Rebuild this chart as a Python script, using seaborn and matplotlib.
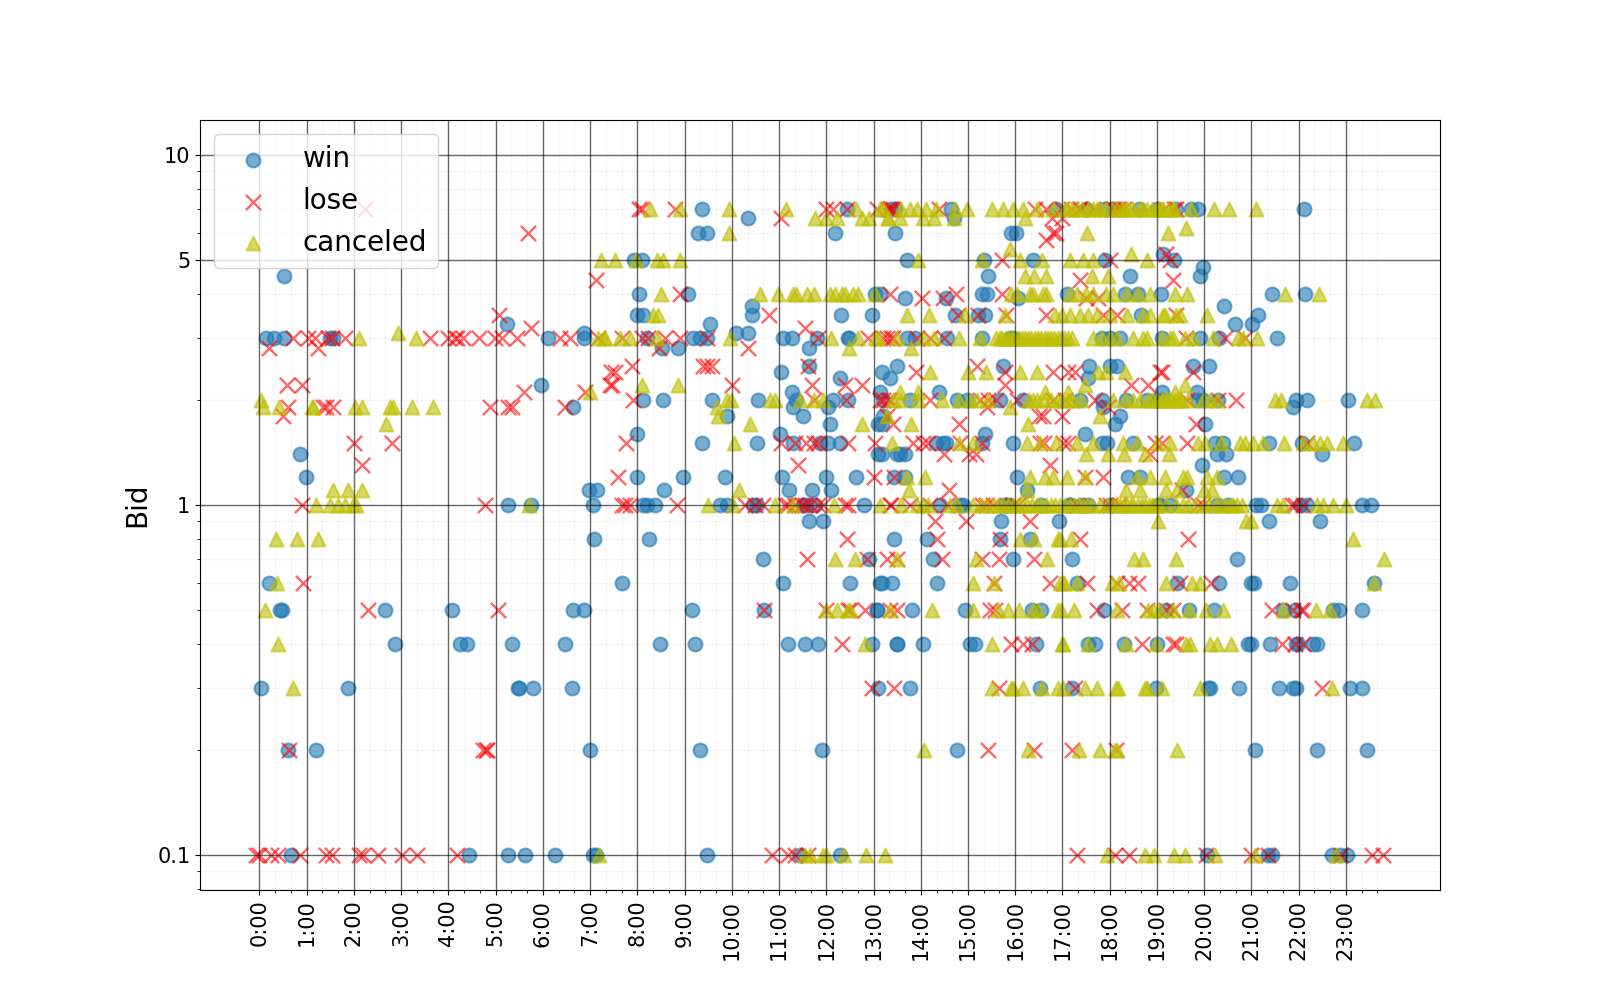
import numpy as np
import pandas as pd
import seaborn as sns
import matplotlib.pyplot as plt
from matplotlib.ticker import LogLocator, NullFormatter

# x values are hours of the day, one list per bid level
win_7 = [9.36, 12.43, 13.38, 13.45, 14.65, 16.87, 17.5, 17.9, 18.1, 18.62, 19.0, 19.41, 19.73, 19.87, 22.12]
win_66 = [10.34, 14.7]
win_6 = [9.29, 9.48, 12.18, 13.46, 15.92, 16.01]
win_52 = [19.13]
win_5 = [7.94, 8.11, 13.71, 15.34, 16.38, 17.9, 19.35]
win_48 = [19.98]
win_45 = [0.53, 15.43, 18.43, 19.9]
win_4 = [8.04, 9.08, 13.03, 13.14, 15.3, 15.4, 17.09, 18.32, 18.6, 19.08, 21.44, 22.14]
win_39 = [13.66, 14.54, 16.06]
win_37 = [10.43, 20.42]
win_35 = [8.0, 8.13, 10.42, 12.31, 12.97, 14.72, 15.22, 15.36, 18.67, 21.14]
win_33 = [5.24, 9.54, 21.01, 20.65]
win_31 = [6.88, 10.1, 10.35]
win_3 = [0.14, 0.31, 0.53, 1.5, 1.55, 6.1, 6.88, 8.2, 9.18, 9.33, 9.47, 11.09, 11.27, 11.81, 12.47, 12.48,
         13.7, 13.87, 14.55, 15.29, 15.89, 15.95, 17.83, 18.0, 18.21, 19.1, 19.9, 20.32, 21.53]
win_28 = [8.53, 8.87, 11.64]
win_25 = [11.64, 13.5, 15.75, 17.57, 18.0, 18.15, 19.77, 20.1]
win_24 = [11.05, 13.17]
win_23 = [12.29, 13.35, 17.55]
win_22 = [5.97]
win_21 = [11.28, 13.14, 14.39, 19.1, 19.84]
win_2 = [8.13, 8.55, 9.59, 10.56, 11.35, 12.15, 12.47, 13.2, 13.77, 14.76, 14.97, 15.67, 16.17, 17.37,
         17.83, 18.35, 18.78, 18.99, 19.1, 19.87, 19.98, 20.3, 21.95, 22.17, 23.05]
win_19 = [6.65, 11.3, 12.04, 17.86, 21.88]
win_18 = [9.89, 11.51, 13.2, 18.21]
win_17 = [12.08, 13.1, 13.17, 18.11, 20.02]
win_16 = [8.0, 11.02, 15.36, 17.48]
win_15 = [9.38, 10.53, 11.3, 11.87, 12.04, 12.29, 14.33, 14.47, 14.54, 15.29, 15.96, 17.83, 17.94, 18.5,
          20.23, 20.4, 21.38, 22.07, 23.17]
win_14 = [0.87, 13.1, 13.19, 13.5, 13.56, 13.67, 20.28, 20.47, 22.5]
win_13 = [19.96]
win_12 = [0.99, 8.0, 8.97, 9.86, 11.07, 12.0, 12.64, 13.44, 13.66, 16.04, 18.39, 18.64, 20.42, 20.72]
win_11 = [6.98, 7.14, 8.57, 11.22, 11.69, 12.11, 16.24, 19.61]
win_1 = [5.27, 5.75, 7.07, 8.13, 8.2, 8.37, 9.76, 9.89, 10.45, 10.53, 11.51, 11.57, 11.76, 12.8, 14.41, 14.83, 14.9,
         15.78, 15.81, 15.85, 16.55, 17.13, 17.15, 17.4, 17.55, 18.0, 19.03, 19.06, 19.27, 20.26, 20.51, 21.1, 21.2,
         22.02, 22.17, 23.33, 23.54]
win_09 = [11.64, 11.94, 15.69, 16.92, 21.38, 22.45]
win_08 = [7.09, 8.25, 13.44, 14.14, 15.68, 16.31]
win_07b = [10.67, 12.9, 14.26, 15.96, 17.2, 20.7]
win_06 = [0.21, 7.68, 11.09, 12.51, 13.13, 13.17, 13.4, 14.35, 17.3, 19.43, 20.32, 20.99, 21.05, 21.81, 23.6]
win_05 = [0.44, 0.49, 2.67, 4.08, 6.65, 6.88, 9.16, 10.68, 13.07, 13.08, 13.82, 14.93, 16.35, 16.54, 17.88,
          19.19, 19.67, 20.21, 21.67, 21.92, 22.73, 22.86, 23.34]
win_04 = [2.88, 4.25, 4.4, 5.35, 6.48, 8.49, 9.22, 11.2, 11.54, 11.83, 12.96, 13.49, 13.5, 14.05, 15.05, 15.14,
          16.44, 17.55, 17.69, 18.31, 19.0, 20.93, 21.0, 21.4, 21.95, 21.99, 22.3, 22.38]
win_03 = [0.04, 1.88, 5.47, 5.5, 5.8, 6.61, 13.1, 13.77, 16.52, 17.21, 18.97, 20.09, 20.12, 20.74, 21.59, 21.88,
          21.94, 23.08, 23.33]
win_02 = [0.61, 1.21, 7.0, 9.33, 11.92, 14.77, 21.08, 22.39, 23.45]
win_01 = [0.67, 4.44, 5.27, 5.62, 6.26, 7.07, 7.12, 9.48, 11.44, 12.29, 20.05, 21.36, 21.43, 22.7, 22.87, 23.03]

lose_7 = [2.24, 8.04, 8.1, 8.8, 12.0, 12.14, 12.43, 13.07, 13.3, 13.35, 13.38, 13.42, 14.39, 16.42, 16.66, 16.98, 17.19,
          17.35, 17.4, 17.65, 18.05, 18.1, 18.15, 18.2, 18.3, 19.14, 19.35, 19.41]
lose_66 = [11.04, 16.77, 16.98]
lose_6 = [5.69, 16.8, 16.86]
lose_57 = [16.66]
lose_52 = [19.2]
lose_5 = [15.71, 18.0, 19.27]
lose_44 = [7.12, 17.37, 19.33]
lose_4 = [8.9, 13.35, 14.74, 15.73]
lose_39 = [14.03, 14.47, 17.5, 17.75]
lose_35 = [5.08, 10.79, 14.79, 15.22, 15.8, 16.66, 17.86, 18.15, 19.41]
lose_32 = [5.75, 11.55]
lose_3 = [0.71, 1.04, 1.18, 1.46, 1.53, 1.81, 3.61, 4.0, 4.14, 4.18, 4.32, 4.66, 4.99, 5.13, 5.45, 6.36, 6.57, 7.17,
          7.67, 8.09, 8.23, 8.58, 8.9, 9.48, 11.83, 12.89, 13.28, 13.42, 13.2, 13.38, 13.91, 14.19, 14.5, 19.61, 20.44, 20.86]
lose_28 = [0.2, 1.25, 8.45, 10.35]
lose_25 = [7.88, 9.4, 9.47, 9.58, 11.62, 15.18]
lose_24 = [7.45, 7.52, 13.9, 15.78, 16.8, 17.12, 17.26, 19.06, 19.1, 19.77]
lose_22 = [0.59, 0.91, 7.42, 7.46, 10.0, 11.7, 12.4, 12.76, 15.78, 18.46, 18.82]
lose_21 = [5.6, 6.89]
lose_2 = [7.9, 12.42, 13.2, 13.35, 14.19, 15.25, 15.43, 15.6, 16.03, 16.8, 17.05, 17.69, 19.63, 20.3, 20.68, 11.73, 13.13, 13.3]
lose_19 = [0.61, 1.35, 1.41, 1.55, 4.88, 5.27, 5.34, 6.47, 15.41, 17.97]
lose_18 = [0.51, 13.29, 16.51, 16.99, 16.58]
lose_17 = [13.42, 14.81, 19.82]
lose_15 = [2.01, 2.8, 7.77, 11.05, 11.34, 11.58, 11.73, 11.83, 12.47, 13.03, 13.84, 14.05, 14.16, 14.83, 15.29,
           16.52, 16.6, 17.02, 17.12, 18.96, 19.1, 19.64, 22.17]
lose_14 = [14.5, 15.02, 15.16, 18.85]
lose_13 = [2.17, 11.4, 16.73]
lose_12 = [7.6, 13.0, 13.43, 17.48, 17.86]
lose_11 = [14.6, 19.52]
lose_1 = [0.9, 4.78, 7.67, 7.74, 7.84, 8.85, 10.28, 10.49, 10.67, 11.13, 11.2, 11.34, 11.48, 11.55, 11.65, 11.83, 11.94,
          12.4, 12.47, 13.35, 13.38, 13.77, 14.2, 14.55, 15.3, 15.39, 15.53, 15.96, 16.06, 17.3, 17.93, 18.0, 18.2, 19.87,
          19.98, 21.85, 21.92, 22.09]
lose_09 = [14.31, 14.95, 16.31]
lose_08 = [12.44, 14.35, 15.68, 17.38, 19.66]
lose_07 = [11.6, 12.87, 13.28, 13.49, 14.45, 15.29, 15.66, 16.39]
lose_06 = [0.93, 15.56, 16.73, 17.52, 18.15, 18.41, 18.59, 19.49, 20.15]
lose_05 = [2.31, 5.06, 10.68, 12.0, 12.47, 12.5, 12.82, 13.35, 13.49, 15.46, 15.57, 17.73, 18.27, 18.79, 19.19, 19.34,
           21.43, 21.87, 22.09, 22.05]
lose_04 = [12.33, 15.92, 16.17, 16.35, 18.69, 19.34, 19.41, 21.64, 21.92, 22.09]
lose_03 = [12.96, 13.43, 15.66, 17.26, 22.49]
lose_02 = [0.63, 4.74, 4.8, 4.83, 15.43, 16.4, 17.2, 18.13]
lose_01 = [-0.07, 0.0, 0.24, 0.4, 0.87, 1.41, 1.53, 2.1, 2.2, 2.52, 3.01, 3.33, 4.18, 10.86, 11.19, 11.33, 11.62,
           17.3, 18.11, 18.41, 20.04, 20.99, 21.36, 22.9, 23.55, 23.79]

canceled_7 = [8.27, 8.9, 9.95, 11.15, 12.64, 13.2, 13.14, 13.59, 13.77, 13.91, 14.12, 14.33, 14.72, 14.97, 15.5, 15.74,
              15.96, 16.17, 16.45, 16.8, 17.05, 17.1, 17.2, 17.3, 17.42, 17.55, 17.65, 17.72, 17.8, 17.93, 18.05, 18.15,
              18.25, 18.32, 18.39, 18.5, 18.64, 18.7, 18.78, 18.9, 18.99, 19.05, 19.13, 19.25, 19.34, 19.1, 19.35, 19.73,
              20.2, 20.53, 21.09]
canceled_66 = [11.76, 12.0, 12.22, 12.75, 12.91, 13.31, 13.3, 13.56, 14.05, 14.28, 14.7, 16.2]
canceled_6 = [9.95, 17.51, 19.24]
canceled_62 = [19.62]
canceled_54 = [15.89]
canceled_52 = [18.46]
canceled_5 = [7.24, 7.53, 7.97, 8.41, 8.55, 8.9, 13.95, 15.29, 16.1, 16.56, 17.16, 17.44, 17.65, 18.78]
canceled_45 = [17.62, 17.97, 16.2, 16.4, 16.66]
canceled_4 = [8.5, 10.6, 10.98, 11.3, 11.37, 11.6, 11.75, 12.08, 12.18, 12.33, 12.4, 12.57, 12.68, 13.03, 15.92, 16.03,
              16.31, 16.38, 16.59, 16.66, 17.16, 17.3, 17.5, 17.65, 17.93, 18.07, 18.36, 18.6, 18.85, 19.38, 19.63,
              21.71, 22.43]
canceled_35 = [8.34, 8.44, 13.71, 14.18, 14.93, 15.78, 16.84, 16.98, 17.16, 17.37, 17.54, 17.72, 18.0, 18.36, 18.71,
               18.85, 19.13, 19.41, 19.16, 19.49, 20.05]
canceled_3 = [7.3, 7.63, 7.84, 8.41, 9.96, 12.1, 12.68, 13.03, 13.1, 13.49, 14.05, 14.27, 14.82, 15.25, 15.6, 15.67,
              15.73, 15.8, 15.86, 15.93, 16.0, 16.07, 16.14, 16.2, 16.27, 16.34, 16.41, 16.48, 16.55, 16.62, 16.69,
              16.76, 16.83, 16.9, 16.97, 17.04, 17.11, 17.2, 17.65, 17.83, 18.0, 18.15, 18.5, 18.71, 18.78, 19.1,
              19.27, 19.34, 19.59, 19.77, 20.19, 20.72, 20.83, 21.11, 2.12, 3.32, 7.17, 7.32]
canceled_31 = [2.94]
canceled_28 = [12.48, 13.8]
canceled_24 = [14.2, 15.0, 15.39, 16.11, 16.46, 17.76, 17.93, 18.32]
canceled_22 = [8.1, 8.87, 17.47, 19.59]
canceled_21 = [7.01, 13.56, 13.95, 16.63, 17.12, 19.38]
canceled_2 = [0.04, 9.89, 9.99, 10.81, 10.91, 11.44, 11.73, 11.94, 13.42, 13.56, 13.95, 14.44, 14.8, 15.05, 15.2, 15.43,
              16.3, 16.38, 16.45, 16.6, 16.75, 16.9, 17.0, 17.12, 17.2, 17.4, 18.07, 18.32, 18.5, 18.64, 18.8, 18.9, 19.0,
              19.1, 19.2, 19.3, 19.42, 19.5, 19.13, 19.24, 19.38, 19.49, 19.66, 19.98, 20.12, 20.26, 21.49, 21.63, 23.44, 23.61]
canceled_19 = [0.08, 0.42, 1.11, 1.14, 2.02, 2.17, 2.77, 2.84, 3.24, 3.68, 9.68, 15.89]
canceled_18 = [9.71, 13.28, 17.79]
canceled_17 = [2.68, 12.75, 10.39, 13.8, 16.27]
canceled_15 = [10.05, 13.4, 14.8, 15.1, 16.24, 16.52, 16.87, 17.3, 17.65, 18.29, 18.57, 19.0, 19.27, 19.87, 20.01, 20.36,
               20.75, 20.86, 21.04, 21.25, 21.69, 22.1, 22.3, 22.45, 22.6, 22.93]
canceled_14 = [17.5, 17.97, 18.3, 18.74, 19.26]
canceled_12 = [13.7, 14.1, 16.31, 16.63, 16.8, 17.09, 17.48, 18.57, 18.85, 19.17, 19.55, 19.63, 20.05, 20.27]
canceled_11 = [1.57, 1.88, 2.18, 10.16, 13.75, 16.24, 18.35, 18.64, 19.2, 19.42, 20.0, 20.16]
canceled_1 = [1.2, 1.5, 1.67, 1.81, 1.99, 2.04, 5.71, 9.5, 10.03, 10.91, 11.3, 12.16, 13.13, 13.59, 13.91, 14.05, 14.16,
              14.62, 14.77, 15.1, 15.27, 15.4, 15.55, 15.65, 15.75, 15.85, 15.95, 16.05, 16.15, 16.25, 16.35, 16.45, 16.55,
              16.65, 16.75, 16.85, 16.95, 17.05, 17.15, 17.25, 17.35, 17.44, 17.51, 17.62, 17.79, 17.95, 18.07, 18.15, 18.22,
              18.3, 18.37, 18.44, 18.5, 18.6, 18.68, 18.75, 18.83, 18.9, 18.97, 19.05, 19.2, 19.41, 19.55, 19.66, 19.8,
              20.0, 20.1, 20.25, 20.35, 20.45, 20.55, 20.6, 20.7, 20.79, 21.53, 21.67, 22.38, 22.52, 22.73, 23.01]
canceled_09 = [19.03, 20.88, 20.98]
canceled_08 = [0.36, 0.8, 1.25, 16.1, 16.4, 16.9, 17.19, 16.95, 23.15]
canceled_07 = [12.18, 12.6, 13.49, 15.17, 16.68, 18.51, 18.71, 19.4, 23.8]
canceled_06 = [0.37, 15.1, 15.56, 17.01, 16.95, 17.04, 17.3, 18.04, 18.2, 19.19, 19.75, 19.92, 23.59]
canceled_05 = [0.13, 12.0, 12.22, 12.47, 12.5, 13.35, 14.24, 15.1, 15.64, 15.85, 16.08, 16.38, 16.49, 16.91, 17.24, 16.97,
               18.15, 18.82, 18.94, 19.06, 19.34, 19.67, 20.03, 20.4, 21.67, 22.36, 22.67]
canceled_04 = [0.4, 12.82, 15.5, 17.0, 17.01, 17.55, 18.34, 18.98, 19.61, 19.7, 20.12, 20.26, 20.56]
canceled_03 = [0.72, 15.5, 15.92, 15.95, 16.17, 16.56, 16.91, 17.02, 17.47, 17.73, 18.14, 18.18, 18.74, 18.79, 19.1, 19.91,
               22.7]
canceled_02 = [14.07, 16.26, 17.35, 17.79, 18.11, 18.16, 19.43]
canceled_01 = [7.19, 11.55, 11.65, 11.94, 11.99, 12.37, 12.84, 13.24, 17.95, 18.74, 18.93, 19.37, 19.6, 20.23, 21.07, 22.78]

win_levels = [(7, win_7), (6.6, win_66), (6, win_6), (5.2, win_52), (5, win_5), (4.8, win_48), (4.5, win_45), (4, win_4),
              (3.9, win_39), (3.7, win_37), (3.5, win_35), (3.3, win_33), (3.1, win_31), (3, win_3), (2.8, win_28),
              (2.5, win_25), (2.4, win_24), (2.3, win_23), (2.2, win_22), (2.1, win_21), (2, win_2), (1.9, win_19),
              (1.8, win_18), (1.7, win_17), (1.6, win_16), (1.5, win_15), (1.4, win_14), (1.3, win_13), (1.2, win_12),
              (1.1, win_11), (1, win_1), (0.9, win_09), (0.8, win_08), (0.7, win_07b), (0.6, win_06), (0.5, win_05),
              (0.4, win_04), (0.3, win_03), (0.2, win_02), (0.1, win_01)]
lose_levels = [(7, lose_7), (6.6, lose_66), (6, lose_6), (5.7, lose_57), (5.2, lose_52), (5, lose_5), (4.4, lose_44),
               (4, lose_4), (3.9, lose_39), (3.5, lose_35), (3.2, lose_32), (3, lose_3), (2.8, lose_28), (2.5, lose_25),
               (2.4, lose_24), (2.2, lose_22), (2.1, lose_21), (2, lose_2), (1.9, lose_19), (1.8, lose_18), (1.7, lose_17),
               (1.5, lose_15), (1.4, lose_14), (1.3, lose_13), (1.2, lose_12), (1.1, lose_11), (1, lose_1), (0.9, lose_09),
               (0.8, lose_08), (0.7, lose_07), (0.6, lose_06), (0.5, lose_05), (0.4, lose_04), (0.3, lose_03),
               (0.2, lose_02), (0.1, lose_01)]
canceled_levels = [(7, canceled_7), (6.6, canceled_66), (6.2, canceled_62), (6, canceled_6), (5.4, canceled_54),
                   (5.2, canceled_52), (5, canceled_5), (4.5, canceled_45), (4, canceled_4), (3.5, canceled_35),
                   (3.1, canceled_31), (3, canceled_3), (2.8, canceled_28), (2.4, canceled_24), (2.2, canceled_22),
                   (2.1, canceled_21), (2, canceled_2), (1.9, canceled_19), (1.8, canceled_18), (1.7, canceled_17),
                   (1.5, canceled_15), (1.4, canceled_14), (1.2, canceled_12), (1.1, canceled_11), (1, canceled_1),
                   (0.9, canceled_09), (0.8, canceled_08), (0.7, canceled_07), (0.6, canceled_06), (0.5, canceled_05),
                   (0.4, canceled_04), (0.3, canceled_03), (0.2, canceled_02), (0.1, canceled_01)]


def to_frame(levels):
    rows = [(h, bid) for bid, hours in levels for h in hours]
    return pd.DataFrame(rows, columns=["hour", "bid"])


fig, ax = plt.subplots(figsize=(16, 10), dpi=100)

sns.scatterplot(data=to_frame(win_levels), x="hour", y="bid", ax=ax, color="C0", edgecolor="C0",
                marker="o", s=100, alpha=0.6, linewidth=1.5, label="win")
sns.scatterplot(data=to_frame(lose_levels), x="hour", y="bid", ax=ax, color="r",
                marker="x", s=120, alpha=0.6, linewidth=1.7, label="lose")
sns.scatterplot(data=to_frame(canceled_levels), x="hour", y="bid", ax=ax, color="y", edgecolor="y",
                marker="^", s=100, alpha=0.6, linewidth=1.5, label="canceled")

ax.set_yscale("log")
ax.set_xlim(-1.255, 24.99)
ax.set_ylim(0.0794, 12.59)

ax.set_xticks(range(24))
ax.set_xticklabels([f"{h}:00" for h in range(24)], rotation=90, fontsize=15)
ax.set_xticks(np.arange(0, 23.9, 1 / 3), minor=True)

ax.set_yticks([0.1, 1, 5, 10])
ax.set_yticklabels(["0.1", "1", "5", "10"], fontsize=15)
ax.yaxis.set_minor_locator(LogLocator(base=10, subs=range(2, 10), numticks=20))
ax.yaxis.set_minor_formatter(NullFormatter())

ax.grid(which="major", color="k", linewidth=1, alpha=0.6)
ax.grid(which="minor", color="gray", linewidth=1, alpha=0.07)

ax.set_xlabel("")
ax.set_ylabel("Bid", fontsize=20)
ax.legend(loc="upper left", fontsize=20)

fig.savefig("out.png", dpi=100)
